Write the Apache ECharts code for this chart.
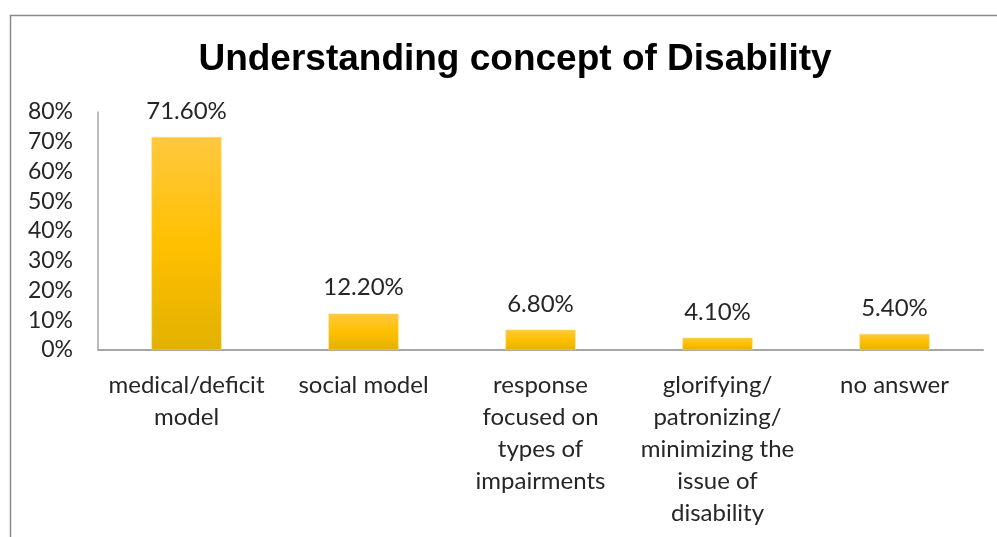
<!DOCTYPE html>
<html>
<head>
<meta charset="utf-8">
<script src="https://cdn.jsdelivr.net/npm/echarts@6/dist/echarts.min.js"></script>
<style>
  html, body { margin: 0; padding: 0; background: #fff; }
  #chart { width: 997px; height: 537px; }
</style>
</head>
<body>
<div id="chart"></div>
<script>
// Survey responses: how the concept of disability was understood
const categories = [
  'medical/deficit\nmodel',
  'social model',
  'response\nfocused on\ntypes of\nimpairments',
  'glorifying/\npatronizing/\nminimizing the\nissue of\ndisability',
  'no answer'
];
const shares = [71.6, 12.2, 6.8, 4.1, 5.4];
const yTicks = [0, 10, 20, 30, 40, 50, 60, 70, 80];

const chart = echarts.init(document.getElementById('chart'), null, { renderer: 'canvas' });

const barFill = new echarts.graphic.LinearGradient(0, 0, 0, 1, [
  { offset: 0, color: '#ffc83f' },
  { offset: 0.5, color: '#ffc000' },
  { offset: 1, color: '#e2b100' }
]);

const bodyFont = 'Lato, "Open Sans", sans-serif';

chart.setOption({
  backgroundColor: '#ffffff',
  animation: false,
  title: {
    text: 'Understanding concept of Disability',
    left: 510,
    top: 36,
    textAlign: 'center',
    textStyle: {
      fontFamily: 'Liberation Sans, Arial, sans-serif',
      fontWeight: 'bold',
      fontSize: 37,
      color: '#000000'
    }
  },
  graphic: [{
    type: 'rect',
    shape: { x: 10.5, y: 15.5, width: 1000, height: 600 },
    style: { fill: null, stroke: '#8a8a8a', lineWidth: 1.5 },
    silent: true
  }],
  grid: { left: 98, right: 14, top: 112, bottom: 187, containLabel: false },
  xAxis: {
    type: 'category',
    data: categories,
    axisLine: { show: true, lineStyle: { color: '#a6a6a6', width: 2 } },
    axisTick: { show: false },
    axisLabel: {
      interval: 0,
      margin: 19,
      fontFamily: bodyFont,
      fontSize: 24,
      lineHeight: 32,
      color: '#262626'
    }
  },
  yAxis: {
    type: 'value',
    min: yTicks[0],
    max: yTicks[yTicks.length - 1],
    interval: 10,
    splitLine: { show: false },
    axisLine: { show: true, lineStyle: { color: '#a6a6a6', width: 1.5 } },
    axisTick: { show: false },
    axisLabel: {
      margin: 25,
      formatter: '{value}%',
      fontFamily: bodyFont,
      fontSize: 23,
      color: '#262626'
    }
  },
  series: [{
    type: 'bar',
    data: shares,
    barWidth: 70,
    itemStyle: { color: barFill, borderColor: '#ffd66e', borderWidth: 0.5 },
    label: {
      show: true,
      position: 'top',
      distance: 14,
      formatter: p => p.value.toFixed(2) + '%',
      fontFamily: bodyFont,
      fontSize: 24,
      color: '#262626'
    }
  }]
});
</script>
</body>
</html>
